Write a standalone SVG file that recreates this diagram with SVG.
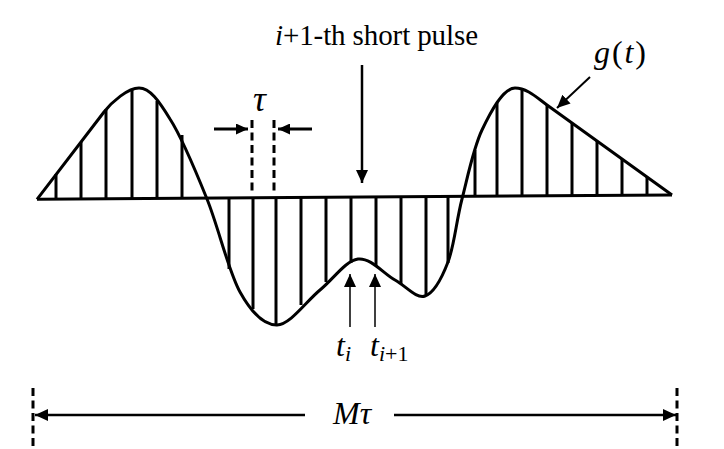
<svg xmlns="http://www.w3.org/2000/svg" width="724" height="449" viewBox="0 0 724 449">
  <style>
    .thick { stroke: #000; stroke-width: 3; fill: none; stroke-linecap: butt; }
    .samp { stroke: #000; stroke-width: 3; fill: none; }
    .dash { stroke: #000; stroke-width: 3; fill: none; stroke-dasharray: 8 4.5; }
    .arr { stroke: #000; fill: none; }
    .serif { font-family: "Liberation Serif", "Times New Roman", serif; fill: #000; }
    .math { font-family: "Liberation Serif", "DejaVu Serif", serif; font-style: italic; fill: #000; }
  </style>
  <defs>
    <marker id="ah" markerUnits="userSpaceOnUse" markerWidth="13" markerHeight="12" refX="13" refY="6" orient="auto">
      <path d="M0,0 L13,6 L0,12 z" fill="#000"/>
    </marker>
    <marker id="ahs" markerUnits="userSpaceOnUse" markerWidth="12" markerHeight="11" refX="12" refY="5.5" orient="auto">
      <path d="M0,0 L12,5.5 L0,11 z" fill="#000"/>
    </marker>
  </defs>

  <rect width="724" height="449" fill="#fff"/>

  <g id="axis">
    <line class="thick" x1="37" y1="199.3" x2="672" y2="195"/>
  </g>

  <g id="samples">
    <line class="samp" x1="56" y1="199.2" x2="56" y2="174"/>
    <line class="samp" x1="81" y1="199" x2="81" y2="142"/>
    <line class="samp" x1="106" y1="198.8" x2="106" y2="109"/>
    <line class="samp" x1="132" y1="198.7" x2="132" y2="89"/>
    <line class="samp" x1="157" y1="198.5" x2="157" y2="101"/>
    <line class="samp" x1="182" y1="198.3" x2="182" y2="135"/>

    <line class="samp" x1="229" y1="198" x2="229" y2="269"/>
    <line class="samp" x1="253" y1="197.8" x2="253" y2="309"/>
    <line class="samp" x1="276" y1="197.7" x2="276" y2="325"/>
    <line class="samp" x1="301" y1="197.5" x2="301" y2="305"/>
    <line class="samp" x1="326" y1="197.3" x2="326" y2="282"/>
    <line class="samp" x1="351" y1="197.2" x2="351" y2="263"/>
    <line class="samp" x1="376" y1="197" x2="376" y2="266"/>
    <line class="samp" x1="401" y1="196.8" x2="401" y2="284"/>
    <line class="samp" x1="426" y1="196.6" x2="426" y2="296"/>
    <line class="samp" x1="448" y1="196.5" x2="448" y2="263"/>

    <line class="samp" x1="475" y1="196.3" x2="475" y2="150"/>
    <line class="samp" x1="497" y1="196.2" x2="497" y2="103"/>
    <line class="samp" x1="522" y1="196" x2="522" y2="89"/>
    <line class="samp" x1="547" y1="195.8" x2="547" y2="105"/>
    <line class="samp" x1="572" y1="195.6" x2="572" y2="123"/>
    <line class="samp" x1="597" y1="195.5" x2="597" y2="141"/>
    <line class="samp" x1="622" y1="195.3" x2="622" y2="159"/>
    <line class="samp" x1="647" y1="195.1" x2="647" y2="177"/>
  </g>

  <g id="curve">
    <path class="thick" stroke-linejoin="round" d="M37,199.3 L104,112 C112,101.6 128,88 139,88 C150,88 159,101 170,119 C181.3,136.5 195.3,170 207,199 C218.7,228 228.3,271 240,292 C251.7,313 263.7,325.3 277,325 C290.3,324.7 306.5,301 320,290 C333.5,279 345.5,260.7 358,259 C370.5,257.3 383.8,273.8 395,280 C406.2,286.2 416.2,299 425,296 C433.8,293 441.8,278.2 448,262 C454.2,245.8 456.3,221 462,199 C467.7,177 473.2,148.5 482,130 C490.8,111.5 503,88 515,88 C527,88 537,97.8 547,105 L672,195"/>
  </g>

  <g id="tau-marker">
    <line class="dash" x1="252" y1="120" x2="252" y2="191"/>
    <line class="dash" x1="274" y1="120" x2="274" y2="191"/>
  </g>

  <g id="range-marks">
    <line class="dash" x1="33" y1="388" x2="33" y2="447"/>
    <line class="dash" x1="677" y1="388" x2="677" y2="447"/>
  </g>

  <g id="connectors">
    <line class="arr" stroke-width="3" x1="214" y1="129" x2="248" y2="129" marker-end="url(#ahs)"/>
    <line class="arr" stroke-width="3" x1="312" y1="129" x2="278" y2="129" marker-end="url(#ahs)"/>
    <line class="arr" stroke-width="2.5" x1="362" y1="65" x2="362" y2="183" marker-end="url(#ah)"/>
    <line class="arr" stroke-width="2" x1="590" y1="77" x2="557" y2="108" marker-end="url(#ah)"/>
    <line class="arr" stroke-width="1.5" x1="350" y1="327" x2="350" y2="274" marker-end="url(#ah)"/>
    <line class="arr" stroke-width="1.5" x1="375" y1="327" x2="375" y2="274" marker-end="url(#ah)"/>
    <line class="arr" stroke-width="2.5" x1="305" y1="415" x2="35" y2="415" marker-end="url(#ah)"/>
    <line class="arr" stroke-width="2.5" x1="394" y1="415" x2="676" y2="415" marker-end="url(#ah)"/>
  </g>

  <g id="labels">
    <text class="serif" x="275" y="45" font-size="29" textLength="203" lengthAdjust="spacing"><tspan font-style="italic">i</tspan>+1-th short pulse</text>
    <text class="math" x="594" y="63" font-size="32" textLength="52" lengthAdjust="spacing">g<tspan font-style="normal">(</tspan>t<tspan font-style="normal">)</tspan></text>
    <text class="math" x="253" y="111" font-size="36">τ</text>
    <text class="math" x="336" y="356" font-size="32">t<tspan font-size="22" dy="5">i</tspan></text>
    <text class="math" x="370" y="356" font-size="32">t<tspan font-size="22" dy="5">i<tspan font-style="normal">+1</tspan></tspan></text>
    <text class="math" x="333" y="424" font-size="32">Mτ</text>
  </g>
</svg>
